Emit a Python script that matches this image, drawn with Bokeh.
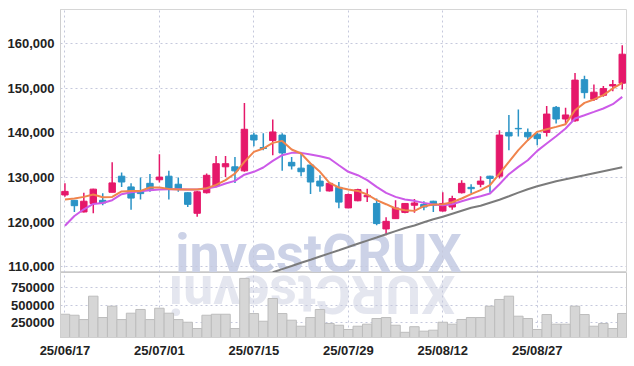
import math
import pandas as pd
from bokeh.plotting import figure
from bokeh.layouts import column
from bokeh.models import ColumnDataSource, FixedTicker, NumeralTickFormatter, Range1d, Label
from bokeh.embed import file_html
from bokeh.resources import INLINE

# ---------------- data ----------------
opens = [126100, 124900, 122300, 124200, 124900, 126700, 130300, 127900, 126900, 128700,
         129500, 130300, 128500, 126600, 122000, 126600, 128100, 132400, 132400, 131500,
         139500, 136700, 138300, 139500, 133400, 132100, 132800, 129200, 127000, 127800,
         123200, 124800, 125700, 124200, 118500, 120800, 122200, 123800, 124000, 124700,
         122500, 123400, 126600, 127800, 128500, 130300, 130300, 140100, 141000, 140100,
         139700, 140100, 145700, 143100, 142700, 151900, 147500, 148400, 150500, 151100]
highs = [128700, 124900, 126600, 127500, 126500, 133400, 131100, 128700, 130000, 130800,
         135200, 131500, 130000, 126700, 127000, 130900, 134800, 134800, 134600, 146700,
         140000, 139900, 143000, 139900, 134600, 135400, 132800, 130500, 129000, 129000,
         126400, 127500, 127500, 125300, 121100, 124900, 124300, 125200, 124700, 124800,
         126700, 125900, 129400, 128500, 130300, 130400, 140600, 144000, 145200, 141000,
         140000, 146000, 146000, 145600, 153400, 152800, 150800, 150500, 151800, 159600]
lows = [125700, 122300, 122200, 122000, 123800, 126700, 127900, 122800, 125100, 126800,
        128900, 125100, 126800, 123400, 121200, 126400, 127800, 130100, 128800, 131300,
        137000, 136100, 135000, 131500, 131800, 130300, 126300, 126800, 126900, 123100,
        123100, 124700, 124500, 119300, 117100, 120700, 122000, 122100, 122700, 122300,
        122400, 122800, 126400, 126400, 127800, 126600, 129800, 136100, 139200, 138200,
        137200, 139200, 142100, 142100, 142500, 147700, 147100, 148100, 149300, 149700]
closes = [126900, 123700, 124700, 127400, 124300, 128800, 129000, 125400, 126400, 127400,
          130100, 127600, 127400, 124000, 126800, 130500, 133100, 133100, 131500, 140800,
          138400, 136500, 140200, 135500, 132600, 131300, 129000, 128100, 128700, 124500,
          126200, 127300, 126000, 119700, 120200, 123200, 124200, 124300, 123400, 123800,
          124200, 125300, 128700, 127500, 129200, 129800, 139500, 139300, 140900, 139100,
          138700, 144200, 143100, 144000, 151800, 149000, 149100, 149900, 150800, 157600]
volumes = [368000, 354000, 292000, 626000, 321000, 483000, 292000, 383000, 436000, 292000,
           454000, 383000, 292000, 254000, 164000, 354000, 368000, 368000, 164000, 880000,
           378000, 268000, 593000, 378000, 283000, 197000, 321000, 436000, 236000, 211000,
           150000, 197000, 226000, 307000, 321000, 211000, 110000, 190000, 126000, 140000,
           254000, 226000, 293000, 321000, 321000, 483000, 579000, 626000, 340000, 307000,
           150000, 364000, 226000, 226000, 483000, 364000, 197000, 236000, 164000, 379000]
ma5 = [125100, 125310, 125670, 126200, 125600, 125670, 126900, 127010, 127010, 127770,
       127770, 127460, 127320, 127320, 127320, 127610, 128350, 129410, 130900, 133500,
       135740, 136500, 137760, 138200, 136270, 135380, 133140, 131280, 128800, 127770,
       127320, 127010, 126200, 124930, 124030, 123070, 122690, 122540, 123580, 123960,
       124030, 124480, 125310, 126270, 127170, 128290, 130900, 133500, 136120, 138360,
       140220, 140820, 141330, 141940, 145070, 146710, 147470, 148430, 149930, 151180]
ma20 = [119200, 121400, 122900, 124100, 124300, 124930, 126270, 126720, 126940, 127170,
        127320, 127390, 127390, 127320, 127320, 127550, 127910, 128670, 129250, 130640,
        131280, 132250, 133730, 135000, 135520, 135520, 135150, 134780, 134260, 132760,
        131280, 130520, 129410, 127910, 126560, 125670, 125090, 124780, 124330, 123960,
        123810, 124030, 124700, 125310, 125820, 126420, 128510, 130750, 132390, 133880,
        135970, 137620, 139250, 140980, 143220, 143950, 144690, 145450, 146410, 148050]
nan = float("nan")
ma60 = [nan] * 22 + [108800, 109500, 110200, 110920, 111610, 112330, 113040, 113740,
                     114450, 115170, 115880, 116580, 117300, 118010, 118720, 119260,
                     120000, 120680, 121240, 121910, 122580, 123250, 123700, 124370,
                     125040, 125820, 126610, 127390, 128060, 128620, 129180, 129630,
                     130080, 130520, 130970, 131420, 131870, 132310]
tick_idx = [0, 10, 20, 30, 40, 50]
tick_labels = ["25/06/17", "25/07/01", "25/07/15", "25/07/29", "25/08/12", "25/08/27"]
price_ticks = [110000, 120000, 130000, 140000, 150000, 160000]
volume_ticks = [250000, 500000, 750000]

# ---------------- styles ----------------
UP = "#e5186a"
DOWN = "#2a93c6"
GRID = "#c5c8dc"
FONT = "Liberation Sans"
LABEL_COLOR = "#222222"
WM_FONT = "Roboto"

df = pd.DataFrame(dict(x=list(range(len(opens))), open=opens, high=highs, low=lows,
                       close=closes, volume=volumes))
df["top"] = df[["open", "close"]].max(axis=1)
df["bottom"] = df[["open", "close"]].min(axis=1)
df["color"] = [UP if c >= o else DOWN for o, c in zip(df.open, df.close)]
src = ColumnDataSource(df)

xr = Range1d(-0.47, 59.45)

p1 = figure(width=628, height=272, x_range=xr, y_range=Range1d(108750, 167600),
            output_backend="svg", toolbar_location=None, x_axis_location=None,
            min_border_left=60, min_border_right=2, min_border_top=9, min_border_bottom=0)
p1.background_fill_color = "white"
p1.border_fill_color = "white"
p1.outline_line_color = "#d6d6d6"

p1.add_layout(Label(x=11.67, y=113070, text="investCRUX", text_font=WM_FONT,
                    text_font_style="bold", text_font_size="54px", text_color="#ccd2e7",
                    text_baseline="middle", text_align="left", level="image"))

p1.segment(x0="x", y0="low", x1="x", y1="high", line_color="color", line_width=1.5, source=src)
p1.vbar(x="x", width=0.68, top="top", bottom="bottom", fill_color="color",
        line_color="color", source=src)
xs = list(range(len(opens)))
p1.line(xs, ma60, line_color="#7b7b7b", line_width=2)
p1.line(xs, ma20, line_color="#cc5ae8", line_width=2)
p1.line(xs, ma5, line_color="#f0844c", line_width=2)

p1.yaxis.ticker = FixedTicker(ticks=price_ticks)
p1.yaxis.formatter = NumeralTickFormatter(format="0,0")
p1.xgrid.ticker = FixedTicker(ticks=tick_idx)
for g in (p1.xgrid, p1.ygrid):
    g.grid_line_color = GRID
    g.grid_line_dash = "2 3"
    g.grid_line_width = 1

p2 = figure(width=628, height=89, x_range=xr, y_range=Range1d(35700, 964300),
            output_backend="svg", toolbar_location=None,
            min_border_left=60, min_border_right=2, min_border_top=0, min_border_bottom=24)
p2.background_fill_color = "white"
p2.border_fill_color = "white"
p2.outline_line_color = "#c8c8c8"

p2.add_layout(Label(x=41.32, y=654300, text="XURCtsevni", text_font=WM_FONT,
                    text_font_style="bold", text_font_size="54px", text_color="#e4e6ef",
                    angle=math.pi, text_baseline="middle",
                    text_align="left", level="image"))

p2.vbar(x="x", width=1.0, top="volume", bottom=0, fill_color="#d6d6d6",
        line_color="#bdbdbd", line_width=1, source=src)
p2.yaxis.ticker = FixedTicker(ticks=volume_ticks)
p2.yaxis.formatter = NumeralTickFormatter(format="0")
p2.xaxis.ticker = FixedTicker(ticks=tick_idx)
p2.xaxis.major_label_overrides = {t: l for t, l in zip(tick_idx, tick_labels)}
p2.xgrid.ticker = FixedTicker(ticks=tick_idx)
for g in (p2.xgrid, p2.ygrid):
    g.grid_line_color = GRID
    g.grid_line_dash = "2 3"
    g.grid_line_width = 1

for ax in (p1.yaxis[0], p2.yaxis[0], p2.xaxis[0]):
    ax.major_tick_line_color = None
    ax.minor_tick_line_color = None
    ax.major_tick_out = 0
    ax.major_tick_in = 0
    ax.axis_line_color = "#cfcfcf"
    ax.major_label_text_font = FONT
    ax.major_label_text_font_style = "bold"
    ax.major_label_text_font_size = "13px"
    ax.major_label_text_color = LABEL_COLOR
for ax in (p1.yaxis[0], p2.yaxis[0]):
    ax.major_label_standoff = 6
p2.xaxis[0].major_label_standoff = 5

layout = column(p1, p2, spacing=0)
open("out.html", "w").write(file_html(layout, INLINE))
